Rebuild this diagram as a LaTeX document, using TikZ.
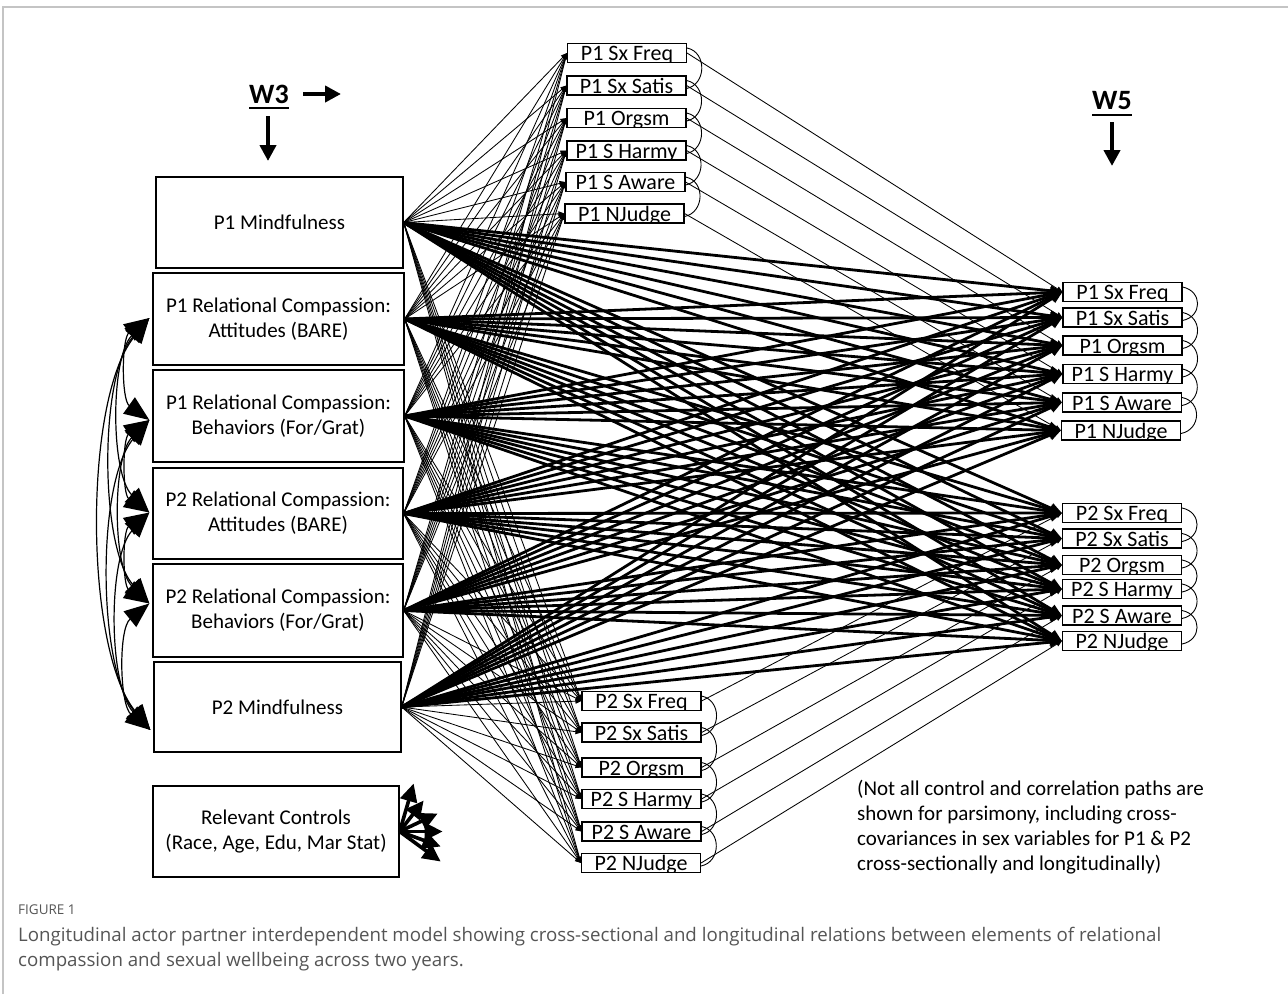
\documentclass[tikz,border=0pt]{standalone}
\usepackage{fontspec}
\setmainfont{Carlito}
\newfontfamily\capfont{Open Sans}
\usetikzlibrary{arrows.meta}
\definecolor{capgray}{HTML}{555555}
\definecolor{framegray}{HTML}{C4C4C4}
\begin{document}
\begin{tikzpicture}[x=1pt,y=-1pt,
  bigbox/.style={draw, line width=1.3pt, align=center, inner sep=0pt, font=\fontsize{21}{25}\selectfont},
  sbox/.style={draw, line width=1.1pt, minimum width=119pt, minimum height=19pt, inner sep=0pt,
     path picture={\node[font=\fontsize{22}{24}\selectfont, anchor=base, inner sep=0pt] at ([yshift=2pt]path picture bounding box.south) {#1};}},
  thinarr/.style={line width=0.85pt, -{Triangle[length=6pt,width=5pt]}},
  thickarr/.style={line width=2.8pt, -{Triangle[length=12pt,width=10pt]}},
  cov/.style={line width=0.9pt},
  bigcov/.style={line width=1.2pt, {Triangle[length=25pt,width=20pt]}-{Triangle[length=25pt,width=20pt]}},
  ctrl/.style={line width=3.6pt, -{Triangle[length=18pt,width=17pt]}},
  boldarrow/.style={line width=4.5pt, -{Triangle[length=16pt,width=16pt]}},
  wave/.style={font=\fontsize{28}{30}\selectfont\bfseries, inner sep=0pt},
]
\useasboundingbox (0,0) rectangle (1288,994);
\draw[line width=1.5pt, color=framegray] (3,994) -- (3,7) -- (1288,7);

% wave labels
\node[wave] (w3) at (269,94) {W3};
\draw[line width=2.5pt] ([yshift=-4.5pt]w3.south west) -- ([yshift=-4.5pt]w3.south east);
\coordinate (w3a) at (303,94); \coordinate (w3b) at (341,94);
\draw[boldarrow] (w3a) -- (w3b);
\coordinate (w3c) at (268,116); \coordinate (w3d) at (268,161);
\draw[boldarrow] (w3c) -- (w3d);
\node[wave] (w5) at (1112,101) {W5};
\draw[line width=2.5pt] ([yshift=-4.5pt]w5.south west) -- ([yshift=-4.5pt]w5.south east);
\coordinate (w5c) at (1112,122); \coordinate (w5d) at (1112,166);
\draw[boldarrow] (w5c) -- (w5d);

% left boxes
\node[bigbox, minimum width=247pt, minimum height=91pt] (L1) at (279.5,222.5) {P1 Mindfulness};
\node[bigbox, minimum width=251pt, minimum height=92pt] (L2) at (278.5,319) {P1 Relational Compassion:\\Attitudes (BARE)};
\node[bigbox, minimum width=251pt, minimum height=92pt] (L3) at (278.5,416) {P1 Relational Compassion:\\Behaviors (For/Grat)};
\node[bigbox, minimum width=250pt, minimum height=91pt] (L4) at (278,513.5) {P2 Relational Compassion:\\Attitudes (BARE)};
\node[bigbox, minimum width=250pt, minimum height=93pt] (L5) at (278,610.5) {P2 Relational Compassion:\\Behaviors (For/Grat)};
\node[bigbox, minimum width=247pt, minimum height=90pt] (L6) at (277.5,707) {P2 Mindfulness};
\node[bigbox, minimum width=246pt, minimum height=91pt] (C) at (276,831.5) {Relevant Controls\\(Race, Age, Edu, Mar Stat)};

% top middle (P1, W3)
\node[sbox={P1 Sx Freq}] (T1) at (627,53) {};
\node[sbox={P1 Sx Satis}] (T2) at (626.5,85.5) {};
\node[sbox={P1 Orgsm}] (T3) at (626.5,118) {};
\node[sbox={P1 S Harmy}] (T4) at (626.5,150.5) {};
\node[sbox={P1 S Aware}] (T5) at (625.5,182) {};
\node[sbox={P1 NJudge}] (T6) at (624.5,213.5) {};
% bottom middle (P2, W3)
\node[sbox={P2 Sx Freq}] (B1) at (641.5,701) {};
\node[sbox={P2 Sx Satis}] (B2) at (641.5,732.5) {};
\node[sbox={P2 Orgsm}] (B3) at (641.5,767.5) {};
\node[sbox={P2 S Harmy}] (B4) at (641.5,799) {};
\node[sbox={P2 S Aware}] (B5) at (641.5,831.5) {};
\node[sbox={P2 NJudge}] (B6) at (641,863) {};
% right (W5)
\node[sbox={P1 Sx Freq}] (R1) at (1122.5,292) {};
\node[sbox={P1 Sx Satis}] (R2) at (1122.5,317.5) {};
\node[sbox={P1 Orgsm}] (R3) at (1122.5,345.5) {};
\node[sbox={P1 S Harmy}] (R4) at (1122.5,374) {};
\node[sbox={P1 S Aware}] (R5) at (1122,402.5) {};
\node[sbox={P1 NJudge}] (R6) at (1121,430.5) {};
\node[sbox={P2 Sx Freq}] (Q1) at (1122,513) {};
\node[sbox={P2 Sx Satis}] (Q2) at (1122,538.5) {};
\node[sbox={P2 Orgsm}] (Q3) at (1122,565) {};
\node[sbox={P2 S Harmy}] (Q4) at (1122,589) {};
\node[sbox={P2 S Aware}] (Q5) at (1122,615.5) {};
\node[sbox={P2 NJudge}] (Q6) at (1122,641) {};

% paths from predictors to W3 sex variables
\foreach \s in {L1,L2,L3,L4,L5,L6} {
  \foreach \t in {T1,T2,T3,T4,T5,T6,B1,B2,B3,B4,B5,B6}
    \draw[thinarr] (\s.east) -- (\t.west);
}
% paths from predictors to W5 sex variables
\foreach \s in {L1,L2,L3,L4,L5,L6} {
  \foreach \t in {R1,R2,R3,R4,R5,R6,Q1,Q2,Q3,Q4,Q5,Q6}
    \draw[thickarr] (\s.east) -- (\t.west);
}
% stability paths
\foreach \a/\b in {T1/R1,T2/R2,T3/R3,T4/R4,T5/R5,T6/R6,B1/Q1,B2/Q2,B3/Q3,B4/Q4,B5/Q5,B6/Q6}
  \draw[thinarr] (\a.east) -- (\b.west);

% covariance arcs among sex variables
\foreach \a/\b in {T1/T2,T2/T3,T3/T4,T4/T5,T5/T6,B1/B2,B2/B3,B3/B4,B4/B5,B5/B6,R1/R2,R2/R3,R3/R4,R4/R5,R5/R6,Q1/Q2,Q2/Q3,Q3/Q4,Q4/Q5,Q5/Q6}
  \draw[cov] ([yshift=5pt]\a.east) .. controls +(20,4) and +(20,-4) .. ([yshift=-3pt]\b.east);

% covariances among predictors
\coordinate (k2) at ([xshift=-3pt,yshift=1pt]L2.west);
\coordinate (k3) at ([xshift=-3pt,yshift=-4pt]L3.west);
\coordinate (k4) at ([xshift=-3pt,yshift=1pt]L4.west);
\coordinate (k5) at ([xshift=-3pt,yshift=7pt]L5.west);
\coordinate (k6) at ([xshift=-3pt,yshift=-23pt]L6.west);
\foreach \a/\b/\c/\s in {k2/k3/28/20, k2/k4/39/39, k2/k5/50/57, k2/k6/66/82, k3/k4/27/18, k3/k5/37/37, k3/k6/53/62, k4/k5/27/18, k4/k6/42/44, k5/k6/31/25}
  \draw[bigcov] (\a) .. controls +(-\c,\s) and +(-\c,-\s) .. (\b);

% controls
\foreach \dx/\dy [count=\n] in {14/-48, 24/-31, 38/-18, 43/0, 41/15, 41/30} {
  \coordinate (cc\n) at ([shift={(\dx,\dy)}]C.east);
  \draw[ctrl] (C.east) -- (cc\n);
}

% note
\node[anchor=north west, align=left, font=\fontsize{21}{25}\selectfont, inner sep=0pt] (note) at (857,780)
 {(Not all control and correlation paths are\\shown for parsimony, including cross-\\covariances in sex variables for P1 \& P2\\cross-sectionally and longitudinally)};

% caption
\node[anchor=base west, font=\capfont\fontsize{13.5}{15}\selectfont, text=capgray, inner sep=0pt] (fig) at (18,914) {FIGURE 1};
\node[anchor=north west, align=left, font=\capfont\fontsize{18.7}{25}\selectfont, text=capgray, inner sep=0pt] (cap) at (18,927)
 {Longitudinal actor partner interdependent model showing cross-sectional and longitudinal relations between elements of relational\\compassion and sexual wellbeing across two years.};
\end{tikzpicture}
\end{document}
